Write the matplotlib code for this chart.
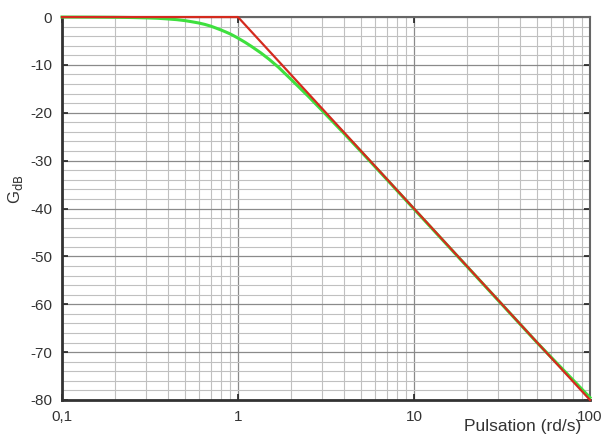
import numpy as np
import matplotlib.pyplot as plt
from matplotlib.ticker import FixedLocator, LogLocator, NullFormatter

plt.rcParams['font.family'] = ['Liberation Sans', 'DejaVu Sans']

# asymptotic (straight-line) approximation
asym_w = [0.1, 1, 100]
asym_g = [0, 0, -80]

real_w = [0.1, 0.15, 0.2, 0.25, 0.3, 0.35, 0.4, 0.45, 0.5, 0.55, 0.6, 0.65, 0.7,
          0.75, 0.8, 0.85, 0.9, 0.95, 1.0, 1.1, 1.2, 1.35, 1.5, 1.7, 2.0, 2.5,
          3.0, 4.0, 5.0, 7.0, 10, 20, 50, 100]
real_g = [0, -0.02, -0.05, -0.1, -0.17, -0.26, -0.4, -0.55, -0.75, -1.0, -1.25,
          -1.55, -1.9, -2.3, -2.7, -3.1, -3.5, -3.95, -4.4, -5.3, -6.2, -7.5,
          -8.8, -10.5, -13.0, -16.5, -19.5, -24.3, -28.1, -33.9, -40.1, -52.1,
          -68.0, -79.5]

xticks = [0.1, 1, 10, 100]
xtick_labels = ['0,1', '1', '10', '100']
yticks = [0, -10, -20, -30, -40, -50, -60, -70, -80]

fig = plt.figure(figsize=(6.04, 4.37), dpi=100)
ax = fig.add_axes([0.1026, 0.0847, 0.8742, 0.8763])

ax.plot(real_w, real_g, color='#3ee03e', lw=2.2, zorder=3, clip_on=False)
ax.plot(asym_w, asym_g, color='#d42a1e', lw=1.6, zorder=4, clip_on=False)

ax.set_xscale('log')
ax.set_xlim(0.1, 100)
ax.set_ylim(-80, 0)

ax.xaxis.set_major_locator(FixedLocator(xticks))
ax.set_xticklabels(xtick_labels)
ax.xaxis.set_minor_locator(LogLocator(base=10, subs=np.arange(2, 10)))
ax.xaxis.set_minor_formatter(NullFormatter())
ax.set_yticks(yticks)
ax.set_yticklabels([str(v) for v in yticks])
ax.set_yticks(np.arange(-80, 1, 2), minor=True)

ax.grid(True, which='major', color='#8a8a8a', lw=0.9)
ax.grid(True, which='minor', color='#c0c0c0', lw=0.8)
ax.set_axisbelow(True)

ax.tick_params(which='major', direction='in', length=4, width=1.2, colors='#222222',
               top=True, right=True, labelsize=11, labelcolor='#333333')
ax.tick_params(which='minor', length=0)
ax.tick_params(axis='y', pad=7)
ax.tick_params(axis='x', pad=7)

for side in ['left', 'bottom']:
    ax.spines[side].set_linewidth(2)
    ax.spines[side].set_color('#333333')
for side in ['top', 'right']:
    ax.spines[side].set_linewidth(1.5)
    ax.spines[side].set_color('#666666')

ax.set_ylabel(r'G$_{\mathrm{dB}}$', fontsize=12, color='#333333')
ax.yaxis.set_label_coords(-0.07, 0.55)
ax.set_xlabel('Pulsation (rd/s)', fontsize=12.5, color='#333333')
ax.xaxis.set_label_coords(0.872, -0.07)
ax.xaxis.label.set_va('center')

fig.savefig('out.png', dpi=100)
